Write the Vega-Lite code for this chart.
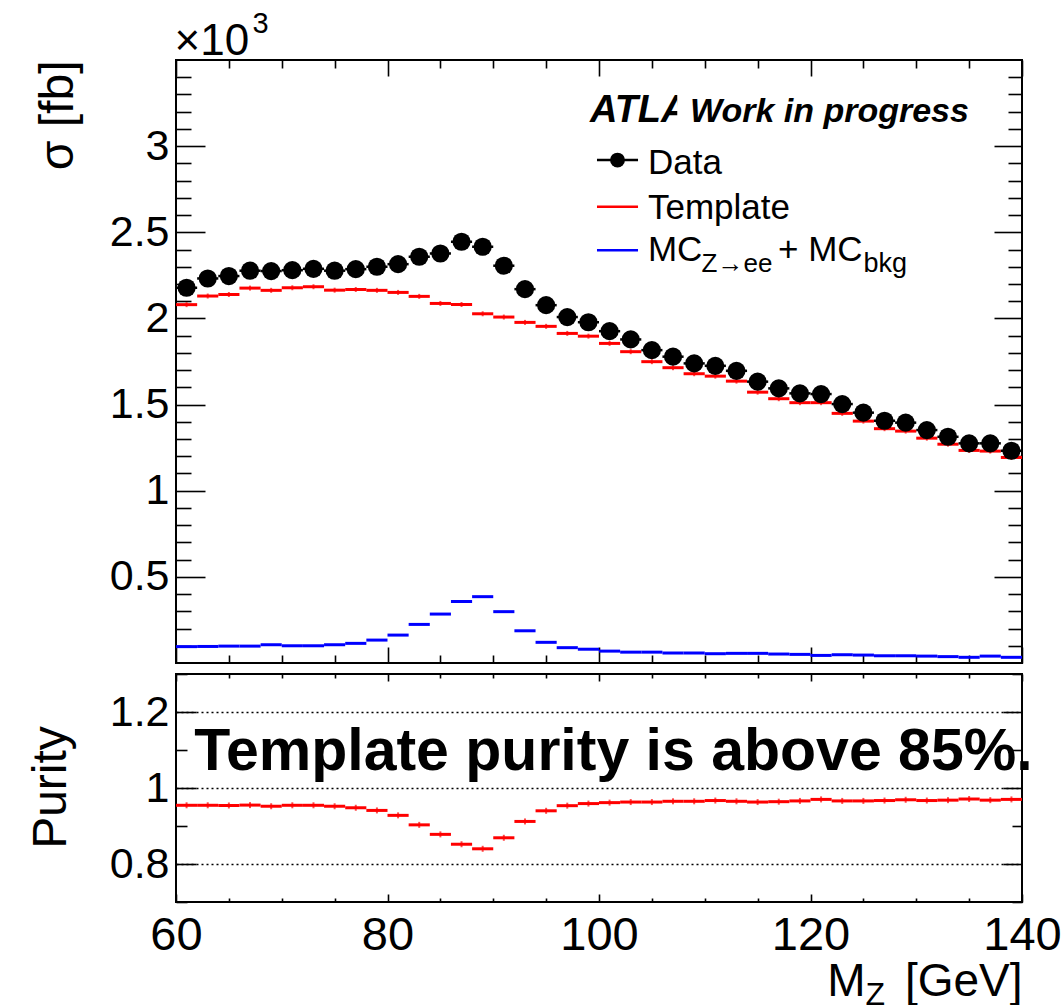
{
  "$schema": "https://vega.github.io/schema/vega-lite/v6.json",
  "padding": {"left": 26, "top": 8, "right": 0, "bottom": 0},
  "spacing": 7,
  "config": {
    "view": {"stroke": "black", "strokeWidth": 2},
    "font": "Liberation Sans",
    "axis": {
      "domain": false,
      "grid": false,
      "tickColor": "black",
      "tickWidth": 1.6,
      "labelFont": "Liberation Sans",
      "labelColor": "black",
      "titleFont": "Liberation Sans",
      "titleColor": "black",
      "titleFontWeight": "normal",
      "labelFlush": false,
      "labelOverlap": false
    }
  },
  "datasets": {
    "bins": [
      {"lo": 60, "hi": 62, "c": 61, "data": 2.178, "template": 2.080, "mc": 0.095, "purity": 0.9545},
      {"lo": 62, "hi": 64, "c": 63, "data": 2.232, "template": 2.130, "mc": 0.096, "purity": 0.9545},
      {"lo": 64, "hi": 66, "c": 65, "data": 2.246, "template": 2.139, "mc": 0.098, "purity": 0.954},
      {"lo": 66, "hi": 68, "c": 67, "data": 2.277, "template": 2.176, "mc": 0.098, "purity": 0.955},
      {"lo": 68, "hi": 70, "c": 69, "data": 2.275, "template": 2.163, "mc": 0.106, "purity": 0.952},
      {"lo": 70, "hi": 72, "c": 71, "data": 2.280, "template": 2.178, "mc": 0.100, "purity": 0.9545},
      {"lo": 72, "hi": 74, "c": 73, "data": 2.288, "template": 2.184, "mc": 0.100, "purity": 0.9545},
      {"lo": 74, "hi": 76, "c": 75, "data": 2.277, "template": 2.164, "mc": 0.106, "purity": 0.952},
      {"lo": 76, "hi": 78, "c": 77, "data": 2.286, "template": 2.168, "mc": 0.114, "purity": 0.948},
      {"lo": 78, "hi": 80, "c": 79, "data": 2.300, "template": 2.163, "mc": 0.133, "purity": 0.941},
      {"lo": 80, "hi": 82, "c": 81, "data": 2.315, "template": 2.151, "mc": 0.162, "purity": 0.928},
      {"lo": 82, "hi": 84, "c": 83, "data": 2.358, "template": 2.128, "mc": 0.224, "purity": 0.903},
      {"lo": 84, "hi": 86, "c": 85, "data": 2.377, "template": 2.087, "mc": 0.284, "purity": 0.878},
      {"lo": 86, "hi": 88, "c": 87, "data": 2.445, "template": 2.081, "mc": 0.357, "purity": 0.852},
      {"lo": 88, "hi": 90, "c": 89, "data": 2.416, "template": 2.027, "mc": 0.385, "purity": 0.840},
      {"lo": 90, "hi": 92, "c": 91, "data": 2.306, "template": 2.008, "mc": 0.298, "purity": 0.869},
      {"lo": 92, "hi": 94, "c": 93, "data": 2.170, "template": 1.977, "mc": 0.187, "purity": 0.912},
      {"lo": 94, "hi": 96, "c": 95, "data": 2.077, "template": 1.954, "mc": 0.120, "purity": 0.940},
      {"lo": 96, "hi": 98, "c": 97, "data": 2.008, "template": 1.913, "mc": 0.089, "purity": 0.9535},
      {"lo": 98, "hi": 100, "c": 99, "data": 1.978, "template": 1.897, "mc": 0.080, "purity": 0.959},
      {"lo": 100, "hi": 102, "c": 101, "data": 1.926, "template": 1.855, "mc": 0.069, "purity": 0.9615},
      {"lo": 102, "hi": 104, "c": 103, "data": 1.878, "template": 1.807, "mc": 0.063, "purity": 0.963},
      {"lo": 104, "hi": 106, "c": 105, "data": 1.816, "template": 1.749, "mc": 0.063, "purity": 0.963},
      {"lo": 106, "hi": 108, "c": 107, "data": 1.778, "template": 1.714, "mc": 0.058, "purity": 0.965},
      {"lo": 108, "hi": 110, "c": 109, "data": 1.739, "template": 1.679, "mc": 0.058, "purity": 0.965},
      {"lo": 110, "hi": 112, "c": 111, "data": 1.725, "template": 1.665, "mc": 0.054, "purity": 0.967},
      {"lo": 112, "hi": 114, "c": 113, "data": 1.696, "template": 1.636, "mc": 0.056, "purity": 0.965},
      {"lo": 114, "hi": 116, "c": 115, "data": 1.633, "template": 1.572, "mc": 0.056, "purity": 0.963},
      {"lo": 116, "hi": 118, "c": 117, "data": 1.594, "template": 1.534, "mc": 0.052, "purity": 0.964},
      {"lo": 118, "hi": 120, "c": 119, "data": 1.565, "template": 1.511, "mc": 0.050, "purity": 0.966},
      {"lo": 120, "hi": 122, "c": 121, "data": 1.561, "template": 1.511, "mc": 0.044, "purity": 0.970},
      {"lo": 122, "hi": 124, "c": 123, "data": 1.503, "template": 1.449, "mc": 0.048, "purity": 0.966},
      {"lo": 124, "hi": 126, "c": 125, "data": 1.453, "template": 1.404, "mc": 0.046, "purity": 0.966},
      {"lo": 126, "hi": 128, "c": 127, "data": 1.406, "template": 1.360, "mc": 0.042, "purity": 0.967},
      {"lo": 128, "hi": 130, "c": 129, "data": 1.395, "template": 1.346, "mc": 0.042, "purity": 0.969},
      {"lo": 130, "hi": 132, "c": 131, "data": 1.352, "template": 1.305, "mc": 0.040, "purity": 0.967},
      {"lo": 132, "hi": 134, "c": 133, "data": 1.313, "template": 1.270, "mc": 0.037, "purity": 0.968},
      {"lo": 134, "hi": 136, "c": 135, "data": 1.275, "template": 1.234, "mc": 0.033, "purity": 0.971},
      {"lo": 136, "hi": 138, "c": 137, "data": 1.275, "template": 1.230, "mc": 0.040, "purity": 0.968},
      {"lo": 138, "hi": 140, "c": 139, "data": 1.232, "template": 1.193, "mc": 0.033, "purity": 0.970}
    ],
    "note": [{}]
  },
  "vconcat": [
    {
      "width": 846,
      "height": 603,
      "data": {"name": "bins"},
      "resolve": {"axis": {"x": "independent", "y": "independent"}},
      "layer": [
        {
          "mark": {"type": "rule", "color": "#0000ff", "strokeWidth": 3},
          "encoding": {
            "x": {"field": "lo", "type": "quantitative",
              "scale": {"domain": [60, 140], "nice": false, "zero": false},
              "axis": {"orient": "bottom", "values": [60,65,70,75,80,85,90,95,100,105,110,115,120,125,130,135,140],
                "tickSize": {"condition": {"test": "datum.value % 20 === 0", "value": -16}, "value": -8},
                "labels": false, "title": null}},
            "x2": {"field": "hi"},
            "y": {"field": "mc", "type": "quantitative",
              "scale": {"domain": [0, 3.5], "nice": false, "zero": false},
              "axis": {"orient": "left",
                "values": [0.1,0.2,0.3,0.4,0.5,0.6,0.7,0.8,0.9,1,1.1,1.2,1.3,1.4,1.5,1.6,1.7,1.8,1.9,2,2.1,2.2,2.3,2.4,2.5,2.6,2.7,2.8,2.9,3,3.1,3.2,3.3,3.4],
                "format": "~g",
                "tickSize": {"condition": {"test": "abs(datum.value*2-round(datum.value*2))<0.001", "value": -29}, "value": -15},
                "labelExpr": "abs(datum.value*2-round(datum.value*2))<0.001 ? datum.label : ''",
                "labelFontSize": {"condition": {"test": "abs(datum.value*2-round(datum.value*2))<0.001", "value": 43}, "value": 0},
                "labelPadding": 36,
                "title": "σ [fb]", "titleFontSize": 48, "titleAngle": 270,
                "titleAlign": "right", "titleBaseline": "alphabetic", "titleX": -104, "titleY": 0}}
          }
        },
        {
          "mark": {"type": "rule", "color": "#ff0000", "strokeWidth": 3},
          "encoding": {
            "x": {"field": "lo", "type": "quantitative",
              "axis": {"orient": "top", "values": [60,65,70,75,80,85,90,95,100,105,110,115,120,125,130,135,140],
                "tickSize": {"condition": {"test": "datum.value % 20 === 0", "value": -16}, "value": -8},
                "labels": false, "title": "×10", "titleFontSize": 44, "titleAngle": 0,
                "titleAlign": "left", "titleBaseline": "alphabetic", "titleX": -2, "titleY": -6}},
            "x2": {"field": "hi"},
            "y": {"field": "template", "type": "quantitative",
              "axis": {"orient": "right",
                "values": [0.1,0.2,0.3,0.4,0.5,0.6,0.7,0.8,0.9,1,1.1,1.2,1.3,1.4,1.5,1.6,1.7,1.8,1.9,2,2.1,2.2,2.3,2.4,2.5,2.6,2.7,2.8,2.9,3,3.1,3.2,3.3,3.4],
                "tickSize": {"condition": {"test": "abs(datum.value*2-round(datum.value*2))<0.001", "value": -28}, "value": -14},
                "labels": false,
                "title": "3", "titleFontSize": 29, "titleAngle": 0,
                "titleAlign": "left", "titleBaseline": "alphabetic", "titleX": -770, "titleY": -28}}
          }
        },
        {
          "mark": {"type": "tick", "orient": "vertical", "color": "#ff0000", "size": 5, "thickness": 2},
          "encoding": {
            "x": {"field": "c", "type": "quantitative", "axis": null},
            "y": {"field": "template", "type": "quantitative", "axis": null}
          }
        },
        {
          "mark": {"type": "rule", "color": "black", "strokeWidth": 2.5},
          "encoding": {
            "x": {"field": "lo", "type": "quantitative", "axis": null},
            "x2": {"field": "hi"},
            "y": {"field": "data", "type": "quantitative", "axis": null}
          }
        },
        {
          "mark": {"type": "circle", "color": "black", "size": 330, "opacity": 1},
          "encoding": {
            "x": {"field": "c", "type": "quantitative", "axis": null},
            "y": {"field": "data", "type": "quantitative", "axis": null}
          }
        },
        {
          "data": {"name": "note"},
          "mark": {"type": "text", "text": "ATLAS", "font": "Liberation Sans", "fontSize": 38, "fontStyle": "italic", "fontWeight": "bold", "align": "left", "baseline": "alphabetic", "color": "black"},
          "encoding": {"x": {"datum": 99.15, "type": "quantitative", "axis": null}, "y": {"datum": 3.143, "type": "quantitative", "axis": null}}
        },
        {
          "data": {"name": "note"},
          "mark": {"type": "rect", "color": "white", "opacity": 1},
          "encoding": {
            "x": {"datum": 107.4, "type": "quantitative", "axis": null}, "x2": {"datum": 136},
            "y": {"datum": 3.06, "type": "quantitative", "axis": null}, "y2": {"datum": 3.33}
          }
        },
        {
          "data": {"name": "note"},
          "mark": {"type": "text", "text": "Work in progress", "font": "Liberation Sans", "fontSize": 34, "fontStyle": "italic", "fontWeight": "bold", "align": "left", "baseline": "alphabetic", "color": "black"},
          "encoding": {"x": {"datum": 108.6, "type": "quantitative", "axis": null}, "y": {"datum": 3.143, "type": "quantitative", "axis": null}}
        },
        {
          "data": {"name": "note"},
          "mark": {"type": "rule", "color": "black", "strokeWidth": 2.5},
          "encoding": {"x": {"datum": 99.81, "type": "quantitative", "axis": null}, "x2": {"datum": 103.69}, "y": {"datum": 2.919, "type": "quantitative", "axis": null}}
        },
        {
          "data": {"name": "note"},
          "mark": {"type": "circle", "color": "black", "size": 220, "opacity": 1},
          "encoding": {"x": {"datum": 101.75, "type": "quantitative", "axis": null}, "y": {"datum": 2.919, "type": "quantitative", "axis": null}}
        },
        {
          "data": {"name": "note"},
          "mark": {"type": "rule", "color": "#ff0000", "strokeWidth": 2.5},
          "encoding": {"x": {"datum": 99.81, "type": "quantitative", "axis": null}, "x2": {"datum": 103.69}, "y": {"datum": 2.648, "type": "quantitative", "axis": null}}
        },
        {
          "data": {"name": "note"},
          "mark": {"type": "rule", "color": "#0000ff", "strokeWidth": 2.5},
          "encoding": {"x": {"datum": 99.81, "type": "quantitative", "axis": null}, "x2": {"datum": 103.69}, "y": {"datum": 2.396, "type": "quantitative", "axis": null}}
        },
        {
          "data": {"name": "note"},
          "mark": {"type": "text", "text": "Data", "fontSize": 35, "align": "left", "baseline": "alphabetic", "color": "black"},
          "encoding": {"x": {"datum": 104.63, "type": "quantitative", "axis": null}, "y": {"datum": 2.841, "type": "quantitative", "axis": null}}
        },
        {
          "data": {"name": "note"},
          "mark": {"type": "text", "text": "Template", "fontSize": 35, "align": "left", "baseline": "alphabetic", "color": "black"},
          "encoding": {"x": {"datum": 104.63, "type": "quantitative", "axis": null}, "y": {"datum": 2.580, "type": "quantitative", "axis": null}}
        },
        {
          "data": {"name": "note"},
          "mark": {"type": "text", "text": "MC", "fontSize": 35, "align": "left", "baseline": "alphabetic", "color": "black"},
          "encoding": {"x": {"datum": 104.63, "type": "quantitative", "axis": null}, "y": {"datum": 2.333, "type": "quantitative", "axis": null}}
        },
        {
          "data": {"name": "note"},
          "mark": {"type": "text", "text": "Z→ee", "fontSize": 26, "align": "left", "baseline": "alphabetic", "color": "black"},
          "encoding": {"x": {"datum": 109.7, "type": "quantitative", "axis": null}, "y": {"datum": 2.267, "type": "quantitative", "axis": null}}
        },
        {
          "data": {"name": "note"},
          "mark": {"type": "text", "text": "+ MC", "fontSize": 35, "align": "left", "baseline": "alphabetic", "color": "black"},
          "encoding": {"x": {"datum": 116.93, "type": "quantitative", "axis": null}, "y": {"datum": 2.333, "type": "quantitative", "axis": null}}
        },
        {
          "data": {"name": "note"},
          "mark": {"type": "text", "text": "bkg", "fontSize": 27, "align": "left", "baseline": "alphabetic", "color": "black"},
          "encoding": {"x": {"datum": 125.0, "type": "quantitative", "axis": null}, "y": {"datum": 2.267, "type": "quantitative", "axis": null}}
        }
      ]
    },
    {
      "width": 846,
      "height": 228,
      "data": {"name": "bins"},
      "resolve": {"axis": {"x": "independent", "y": "independent"}},
      "layer": [
        {
          "mark": {"type": "rule", "color": "#ff0000", "strokeWidth": 3},
          "encoding": {
            "x": {"field": "lo", "type": "quantitative",
              "scale": {"domain": [60, 140], "nice": false, "zero": false},
              "axis": {"orient": "bottom", "values": [60,65,70,75,80,85,90,95,100,105,110,115,120,125,130,135,140],
                "tickSize": {"condition": {"test": "datum.value % 20 === 0", "value": -8}, "value": -4},
                "labelExpr": "datum.value % 20 === 0 ? datum.label : ''",
                "labelFontSize": {"condition": {"test": "datum.value % 20 === 0", "value": 47}, "value": 0},
                "labelPadding": 18.5,
                "title": "[GeV]", "titleFontSize": 46, "titleAngle": 0,
                "titleAlign": "right", "titleBaseline": "alphabetic", "titleX": 846, "titleY": 93}},
            "x2": {"field": "hi"},
            "y": {"field": "purity", "type": "quantitative",
              "scale": {"domain": [0.7, 1.3], "nice": false, "zero": false},
              "axis": {"orient": "left", "values": [0.7,0.8,0.9,1,1.1,1.2,1.3],
                "format": "~g",
                "tickSize": {"condition": {"test": "abs(datum.value*5-round(datum.value*5))<0.001", "value": -20}, "value": -11},
                "labelExpr": "abs(datum.value*5-round(datum.value*5))<0.001 ? datum.label : ''",
                "labelFontSize": {"condition": {"test": "abs(datum.value*5-round(datum.value*5))<0.001", "value": 43}, "value": 0},
                "labelPadding": 27,
                "grid": true, "gridColor": "black", "gridDash": [2, 3], "gridWidth": 1.5,
                "gridOpacity": {"condition": {"test": "abs(datum.value*5-round(datum.value*5))<0.001", "value": 1}, "value": 0},
                "title": "Purity", "titleFontSize": 48, "titleAngle": 270,
                "titleAlign": "center", "titleBaseline": "alphabetic", "titleX": -111, "titleY": 113}}
          }
        },
        {
          "mark": {"type": "tick", "orient": "vertical", "color": "#ff0000", "size": 6, "thickness": 2},
          "encoding": {
            "x": {"field": "c", "type": "quantitative",
              "axis": {"orient": "top", "values": [60,65,70,75,80,85,90,95,100,105,110,115,120,125,130,135,140],
                "tickSize": {"condition": {"test": "datum.value % 20 === 0", "value": -7}, "value": -4},
                "labels": false, "title": "M", "titleFontSize": 46, "titleAngle": 0,
                "titleAlign": "right", "titleBaseline": "alphabetic", "titleX": 689, "titleY": 321}},
            "y": {"field": "purity", "type": "quantitative",
              "axis": {"orient": "right", "values": [0.7,0.8,0.9,1,1.1,1.2,1.3],
                "tickSize": {"condition": {"test": "abs(datum.value*5-round(datum.value*5))<0.001", "value": -19}, "value": -10},
                "labels": false,
                "title": "Z", "titleFontSize": 32, "titleAngle": 0,
                "titleAlign": "left", "titleBaseline": "alphabetic", "titleX": -157, "titleY": 330}}
          }
        },
        {
          "data": {"name": "note"},
          "mark": {"type": "text", "text": "Template purity is above 85%.", "font": "Liberation Sans", "fontSize": 59, "fontWeight": "bold", "align": "left", "baseline": "alphabetic", "color": "black"},
          "encoding": {"x": {"datum": 61.73, "type": "quantitative", "axis": null}, "y": {"datum": 1.0484, "type": "quantitative", "axis": null}}
        }
      ]
    }
  ]
}
